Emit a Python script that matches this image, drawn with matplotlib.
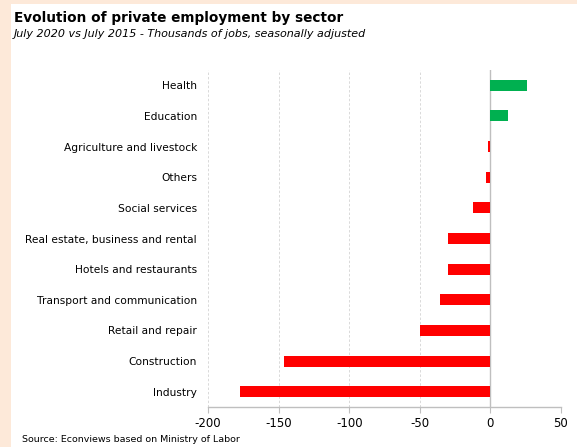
import matplotlib.pyplot as plt
from matplotlib.patches import Rectangle

# Thousands of jobs, July 2020 vs July 2015
sectors = ['Health', 'Education', 'Agriculture and livestock', 'Others',
           'Social services', 'Real estate, business and rental',
           'Hotels and restaurants', 'Transport and communication',
           'Retail and repair', 'Construction', 'Industry']
change = [26, 12.5, -2, -3, -12.5, -30, -30, -35.5, -50, -146, -177]
xticks = [-200, -150, -100, -50, 0, 50]

fig = plt.figure(figsize=(5.77, 4.47), dpi=100)
fig.patch.set_facecolor('white')

# peach frame strips on the left and top
fig.patches.append(Rectangle((0, 0), 11 / 577, 1, transform=fig.transFigure,
                             facecolor='#fde9d9', edgecolor='none', zorder=0))
fig.patches.append(Rectangle((0, 1 - 3.5 / 447), 1, 3.5 / 447, transform=fig.transFigure,
                             facecolor='#fde9d9', edgecolor='none', zorder=0))

ax = fig.add_axes([208 / 577, 1 - 407 / 447, 353 / 577, 337 / 447])

ypos = list(range(len(sectors)))[::-1]
colors = ['#00b050' if v > 0 else '#ff0000' for v in change]
ax.barh(ypos, change, height=0.36, color=colors, zorder=3)

ax.set_xlim(-200, 50)
ax.set_ylim(-0.5, len(sectors) - 0.5)
ax.set_xticks(xticks)
ax.set_xticklabels([str(t) for t in xticks], fontsize=8.5)
ax.set_yticks(ypos)
ax.set_yticklabels(sectors, fontsize=7.7)

for t in xticks:
    if t != 0:
        ax.axvline(t, color='#d9d9d9', lw=0.7, ls=(0, (2.5, 2)), zorder=1)
ax.axvline(0, color='#bfbfbf', lw=1.0, zorder=2)

for s in ['top', 'right', 'left']:
    ax.spines[s].set_visible(False)
ax.spines['bottom'].set_color('#bfbfbf')
ax.spines['bottom'].set_linewidth(1.0)
ax.tick_params(axis='x', length=4, color='#bfbfbf', pad=3)
ax.tick_params(axis='y', length=0, pad=8)

fig.text(14 / 577, 1 - 18 / 447, 'Evolution of private employment by sector',
         fontsize=9.8, fontweight='bold', va='center', ha='left')
fig.text(14 / 577, 1 - 34 / 447,
         'July 2020 vs July 2015 - Thousands of jobs, seasonally adjusted',
         fontsize=8, style='italic', va='center', ha='left')
fig.text(22 / 577, 1 - 439 / 447, 'Source: Econviews based on Ministry of Labor',
         fontsize=6.8, va='center', ha='left')

fig.savefig('out.png', dpi=100)
